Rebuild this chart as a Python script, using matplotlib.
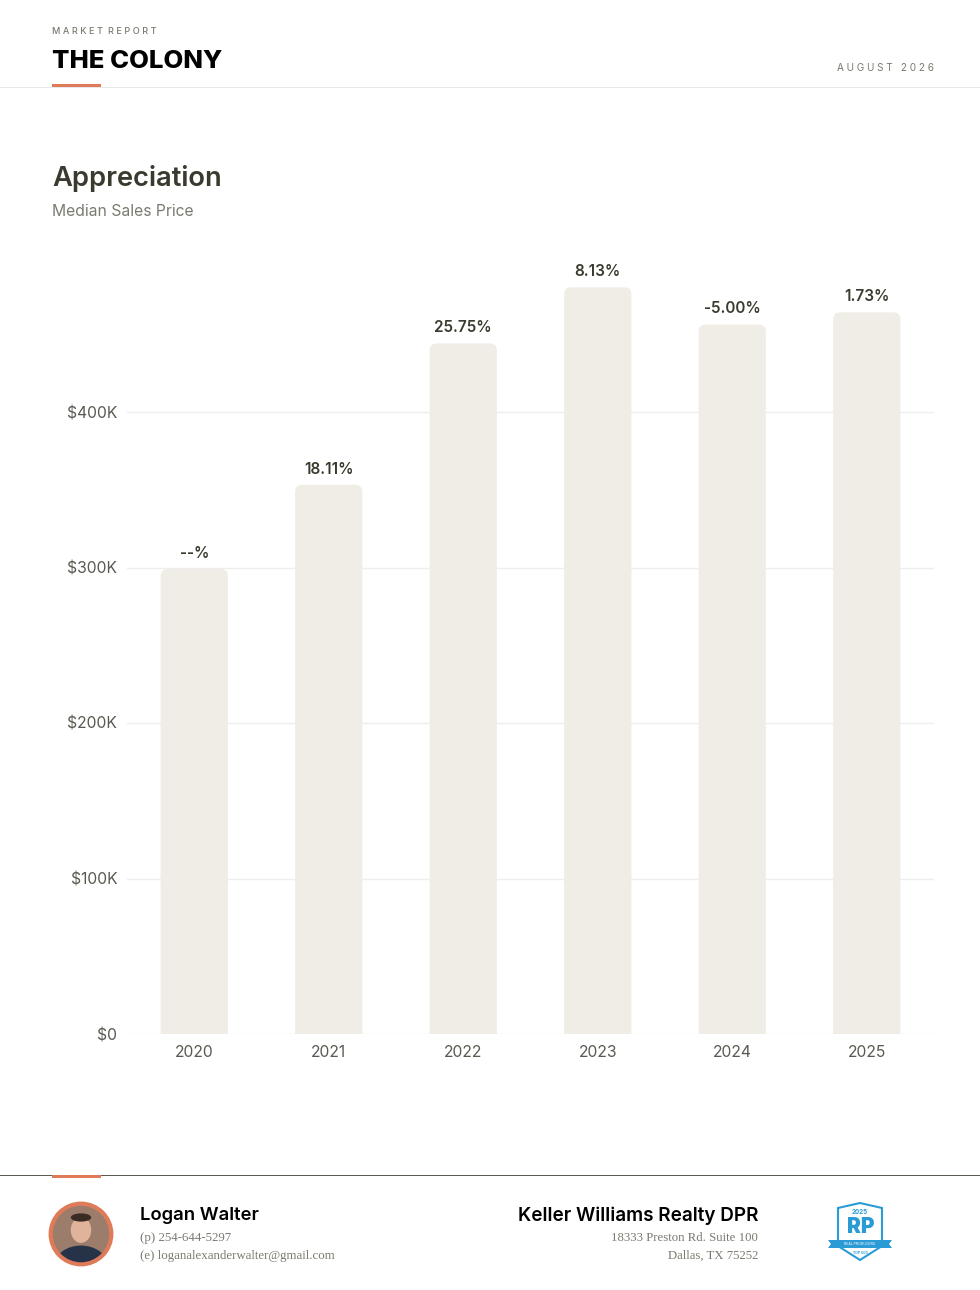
import matplotlib
matplotlib.use('Agg')
from matplotlib import pyplot as plt
from matplotlib.patches import FancyBboxPatch, Circle, Ellipse, Polygon, Rectangle
import numpy as np

# datos
years = ['2020', '2021', '2022', '2023', '2024', '2025']
median_price = [299000, 353150, 444090, 480200, 456190, 464080]
change_labels = ['--%', '18.11%', '25.75%', '8.13%', '-5.00%', '1.73%']
yticks = [0, 100000, 200000, 300000, 400000]
ytick_labels = ['$0', '$100K', '$200K', '$300K', '$400K']

W, H = 980, 1290
DARK = '#3b3a2f'
GRAY = '#7b7a70'
ORANGE = '#e07b5a'
BAR = '#f0ede6'
BLUE = '#2b9bd6'

plt.rcParams['font.family'] = ['Inter', 'DejaVu Sans']

fig = plt.figure(figsize=(W / 100, H / 100), dpi=100)
fig.patch.set_facecolor('white')

def fx(x):
    return x / W

def fy(y):
    return 1 - y / H

# cabecera
fig.text(fx(52), fy(32), 'M A R K E T  R E P O R T', fontsize=6.6, color=GRAY,
         va='center', ha='left', fontweight='medium')
fig.text(fx(52), fy(62), 'THE COLONY', fontsize=18.5, color='black', va='center',
         ha='left', fontweight='heavy')
fig.text(fx(934), fy(68), 'A U G U S T   2 0 2 6', fontsize=7.2, color=GRAY, va='center',
         ha='right')
fig.add_artist(Rectangle((fx(0), fy(88)), 1, 1 / H, transform=fig.transFigure,
                         color='#e8e8e8', lw=0))
fig.add_artist(Rectangle((fx(52), fy(87)), fx(49), 3 / H, transform=fig.transFigure,
                         color=ORANGE, lw=0))

fig.text(fx(52), fy(178), 'Appreciation', fontsize=19.7, color=DARK, va='center',
         ha='left', fontweight='semibold')
fig.text(fx(52), fy(211), 'Median Sales Price', fontsize=11.3, color=GRAY, va='center',
         ha='left')

# grafico
ymax = 500000
top_px = 1034 - ymax * 155.5 / 100000
ax = fig.add_axes([fx(127), fy(1034), fx(934 - 127), (1034 - top_px) / H])
ax.set_xlim(-0.5, len(years) - 0.5)
ax.set_ylim(0, ymax)
for s in ax.spines.values():
    s.set_visible(False)
ax.set_yticks(yticks)
ax.set_yticklabels(ytick_labels)
ax.set_xticks(range(len(years)))
ax.set_xticklabels(years)
ax.tick_params(length=0, labelsize=11.3, labelcolor='#5a5a52')
ax.tick_params(axis='y', pad=7)
ax.tick_params(axis='x', pad=8)
ax.grid(axis='y', color='#eeeeee', lw=1)
ax.set_axisbelow(True)

# esquinas redondeadas: relacion de aspecto pixeles
px_x = (934 - 127) / len(years)
px_y = 155.5 / 100000
aspect = (1 / px_y) / (1 / px_x)
rad = 7 / px_x
bw = 0.5
for i, v in enumerate(median_price):
    p = FancyBboxPatch((i - bw / 2, -20000), bw, v + 20000,
                       boxstyle='round,pad=0,rounding_size=%f' % rad,
                       mutation_aspect=aspect, fc=BAR, ec='none', zorder=2)
    ax.add_patch(p)
    p.set_clip_path(ax.patch)
    ax.annotate(change_labels[i], (i, v), xytext=(0, 6), textcoords='offset points',
                ha='center', va='bottom', fontsize=11, fontweight='semibold', color=DARK)

# pie de pagina
fig.add_artist(Rectangle((0, fy(1176)), 1, 1.2 / H, transform=fig.transFigure,
                         color='#5c5c55', lw=0))
fig.add_artist(Rectangle((fx(52), fy(1178)), fx(49), 3 / H, transform=fig.transFigure,
                         color=ORANGE, lw=0))

# foto (aproximada)
pax = fig.add_axes([fx(48), fy(1267), fx(66), 66 / H])
pax.set_xlim(-1, 1)
pax.set_ylim(-1, 1)
pax.set_aspect('equal')
pax.axis('off')
clip = Circle((0, 0), 0.9, transform=pax.transData)
for art in [Rectangle((-1, -1), 2, 2, fc='#9c7d6b'),
            Ellipse((0, -0.95), 1.6, 1.2, fc='#263248'),
            Ellipse((0, 0.12), 0.62, 0.78, fc='#e0b49a'),
            Ellipse((0, 0.5), 0.62, 0.25, fc='#3a2c25')]:
    pax.add_patch(art)
    art.set_clip_path(clip)
pax.add_patch(Circle((0, 0), 0.92, fc='none', ec=ORANGE, lw=3))

fig.text(fx(140), fy(1216), 'Logan Walter', fontsize=13.3, fontweight='semibold',
         color='black', va='center', ha='left')
fig.text(fx(140), fy(1238), '(p) 254-644-5297', fontsize=9.3, color=GRAY, va='center',
         ha='left', family='Liberation Serif')
fig.text(fx(140), fy(1256), '(e) loganalexanderwalter@gmail.com', fontsize=9.3, color=GRAY,
         va='center', ha='left', family='Liberation Serif')

fig.text(fx(758), fy(1216), 'Keller Williams Realty DPR', fontsize=13.6, fontweight='semibold',
         color='black', va='center', ha='right')
fig.text(fx(758), fy(1238), '18333 Preston Rd. Suite 100', fontsize=9.2, color=GRAY,
         va='center', ha='right', family='Liberation Serif')
fig.text(fx(758), fy(1256), 'Dallas, TX 75252', fontsize=9.2, color=GRAY, va='center',
         ha='right', family='Liberation Serif')

# logo (aproximado)
lax = fig.add_axes([fx(824), fy(1266), fx(72), 64 / H])
lax.set_xlim(0, 72)
lax.set_ylim(64, 0)
lax.axis('off')
shield = [(14, 6), (36, 1), (58, 6), (58, 44), (36, 58), (14, 44)]
lax.add_patch(Polygon(shield, closed=True, fc='white', ec=BLUE, lw=1.5))
lax.add_patch(Polygon([(4, 38), (68, 38), (65, 42), (68, 46), (4, 46), (7, 42)],
                      closed=True, fc=BLUE, ec='none'))
lax.text(36, 10, '2025', fontsize=4.5, color=BLUE, ha='center', va='center',
         fontweight='bold')
lax.text(37, 25, 'RP', fontsize=15, color=BLUE, ha='center', va='center',
         fontweight='black')
lax.text(36, 42, 'REAL PRODUCERS', fontsize=2.5, color='white', ha='center', va='center')
lax.text(36, 51, 'TOP 500', fontsize=2.5, color=BLUE, ha='center', va='center',
         fontweight='bold')

fig.savefig('out.png', dpi=100, facecolor='white')
